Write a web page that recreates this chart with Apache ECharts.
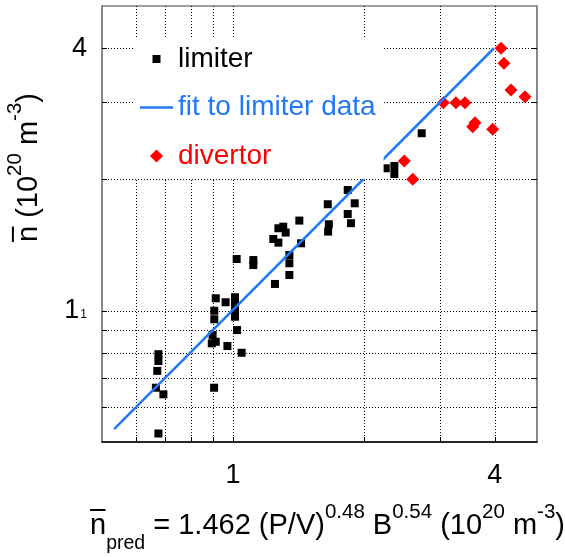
<!DOCTYPE html>
<html>
<head>
<meta charset="utf-8">
<script src="https://cdn.jsdelivr.net/npm/echarts@6/dist/echarts.min.js"></script>
<style>
  html, body { margin: 0; padding: 0; background: #fff; }
  #chart { width: 565px; height: 557px; }
</style>
</head>
<body>
<div id="chart"></div>
<script>
// Limiter discharges: predicted density vs measured line-averaged density (1e20 m^-3)
const limiterPred = [0.674, 0.665, 0.692, 0.670, 0.674, 0.674, 0.905, 0.894, 0.913, 0.898,
  0.906, 0.906, 0.913, 0.962, 1.011, 1.011, 1.011, 1.011, 1.022, 0.971,
  1.047, 1.020, 1.114, 1.114, 1.249, 1.238, 1.272, 1.272, 1.305, 1.322,
  1.421, 1.434, 1.348, 1.348, 1.348, 1.652, 1.661, 1.655, 1.836, 1.905,
  1.836, 1.868, 2.245, 2.350, 2.350, 2.716];
const limiterN = [0.523, 0.666, 0.643, 0.728, 0.795, 0.767, 0.666, 0.842, 0.849, 0.880,
  1.000, 0.956, 1.068, 1.046, 1.074, 1.031, 0.995, 0.969, 0.903, 0.830,
  0.801, 1.314, 1.307, 1.273, 1.152, 1.461, 1.433, 1.546, 1.559, 1.511,
  1.610, 1.428, 1.342, 1.285, 1.208, 1.755, 1.579, 1.519, 1.892, 1.764,
  1.667, 1.588, 2.122, 2.148, 2.059, 2.553];

// Divertor discharges
const divertorPred = [4.132, 4.198, 4.357, 4.693, 3.045, 3.256, 3.415, 3.601, 3.557, 3.955, 2.477, 2.590];
const divertorN = [3.999, 3.695, 3.209, 3.097, 3.000, 3.000, 3.000, 2.700, 2.644, 2.608, 2.205, 2.002];

// Power-law fit to the limiter data (end points)
const fitPred = [0.533, 3.98];
const fitN = [0.535, 4.0];

// Axis decorations
const gridValues = [0.6, 0.7, 0.8, 0.9, 1, 2, 3, 4];
const xLabelValues = [1, 4];
const yLabelValues = [1, 4];

const FONT = "'Liberation Sans', Arial, Helvetica, sans-serif";
const BLUE = '#2179f5';
const RED = '#ff0000';

const pairs = (xs, ys) => xs.map((x, i) => [x, ys[i]]);
const round2 = v => Math.round(v * 100) / 100;

// rich styles for axis titles: overline bar, main text, super/subscripts
const nameRich = {
  ol: { width: 15.5, height: 2, lineHeight: 2, backgroundColor: '#000', align: 'left' },
  m: { fontSize: 29, lineHeight: 30, fontFamily: FONT, color: '#000' },
  sup: { fontSize: 20.5, lineHeight: 30, fontFamily: FONT, color: '#000', padding: [0, 0, 28, 0] },
  sub: { fontSize: 19.5, lineHeight: 30, fontFamily: FONT, color: '#000', padding: [35, 0, 0, 0] }
};

const splitLineStyle = { color: '#000', width: 1, type: [1, 2] };

const chart = echarts.init(document.getElementById('chart'), null, { renderer: 'canvas' });

chart.setOption({
  animation: false,
  backgroundColor: '#fff',
  grid: {
    left: 102, right: 28, top: 6, bottom: 115,
    show: true, borderColor: '#808080', borderWidth: 1.5,
    outerBoundsMode: 'none'
  },
  legend: {
    orient: 'vertical',
    left: 133, top: 37,
    padding: [7, 8, 8, 7],
    backgroundColor: '#fff',
    itemWidth: 33, itemHeight: 14, itemGap: 18.5,
    selectedMode: false,
    textStyle: { fontSize: 28, fontFamily: FONT, lineHeight: 30 },
    data: [
      { name: 'limiter', icon: 'path://M0,0M33,14M12.5,3h8v8h-8z',
        itemStyle: { color: '#000', borderWidth: 0, opacity: 1 }, textStyle: { color: '#000' } },
      { name: 'fit to limiter data', icon: 'path://M0,0M33,14M0,5.75h33v2.5h-33z',
        itemStyle: { color: BLUE, borderWidth: 0, opacity: 1 }, textStyle: { color: BLUE } },
      { name: 'divertor', icon: 'path://M0,0M33,14M16.5,0.5L23,7L16.5,13.5L10,7Z',
        itemStyle: { color: RED, borderWidth: 0, opacity: 1 }, textStyle: { color: RED } }
    ]
  },
  xAxis: [{
    type: 'log', logBase: 10, min: 0.5, max: 5,
    position: 'bottom',
    axisLine: { show: true, lineStyle: { color: '#000', width: 1.5 } },
    axisTick: { show: true, inside: true, length: 5, customValues: gridValues, lineStyle: { color: '#000', width: 1 } },
    axisLabel: {
      customValues: xLabelValues, margin: 20,
      formatter: v => '{a|' + round2(v) + '}',
      rich: { a: { fontSize: 27, fontFamily: FONT, color: '#000' } }
    },
    splitLine: { show: true, lineStyle: splitLineStyle },
    name: '{ol| }\n{m|n}{sub|pred}{m| = 1.462 (P/V)}{sup|0.48}{m| B}{sup|0.54}{m| (10}{sup|20}{m| m}{sup|-3}{m|)}',
    nameLocation: 'middle',
    nameGap: 67,
    nameTextStyle: { rich: nameRich, padding: [0, 0, 0, 16] }
  }],
  yAxis: [{
    type: 'log', logBase: 10, min: 0.5, max: 5,
    position: 'left',
    axisLine: { show: true, lineStyle: { color: '#808080', width: 1.5 } },
    axisTick: { show: true, inside: true, length: 5, customValues: gridValues, lineStyle: { color: '#000', width: 1 } },
    axisLabel: {
      customValues: yLabelValues, margin: 15,
      formatter: v => round2(v) === 1 ? '{a|1}{s|1}' : '{a|' + round2(v) + '}',
      rich: {
        a: { fontSize: 27, fontFamily: FONT, color: '#000' },
        s: { fontSize: 12, fontFamily: FONT, color: '#000', padding: [8, 0, 0, 1] }
      }
    },
    splitLine: { show: true, lineStyle: splitLineStyle },
    name: '{ol| }\n{m|n (10}{sup|20}{m| m}{sup|-3}{m|)}',
    nameLocation: 'middle',
    nameGap: 56,
    nameTextStyle: { rich: nameRich, padding: [0, 0, 0, 113] }
  }, {
    type: 'log', logBase: 10, min: 0.5, max: 5,
    position: 'right',
    axisLine: { show: true, lineStyle: { color: '#808080', width: 1.5 } },
    axisTick: { show: true, inside: true, length: 5, customValues: gridValues, lineStyle: { color: '#000', width: 1 } },
    axisLabel: { show: false },
    splitLine: { show: false }
  }],
  series: [{
    name: 'limiter',
    type: 'scatter',
    symbol: 'rect',
    symbolSize: 8,
    itemStyle: { color: '#000', opacity: 1 },
    data: pairs(limiterPred, limiterN)
  }, {
    name: 'fit to limiter data',
    type: 'line',
    symbol: 'none',
    lineStyle: { color: BLUE, width: 2.5 },
    itemStyle: { color: BLUE },
    data: pairs(fitPred, fitN)
  }, {
    name: 'divertor',
    type: 'scatter',
    symbol: 'diamond',
    symbolSize: 13,
    itemStyle: { color: RED, opacity: 1 },
    data: pairs(divertorPred, divertorN)
  }]
});
</script>
</body>
</html>
